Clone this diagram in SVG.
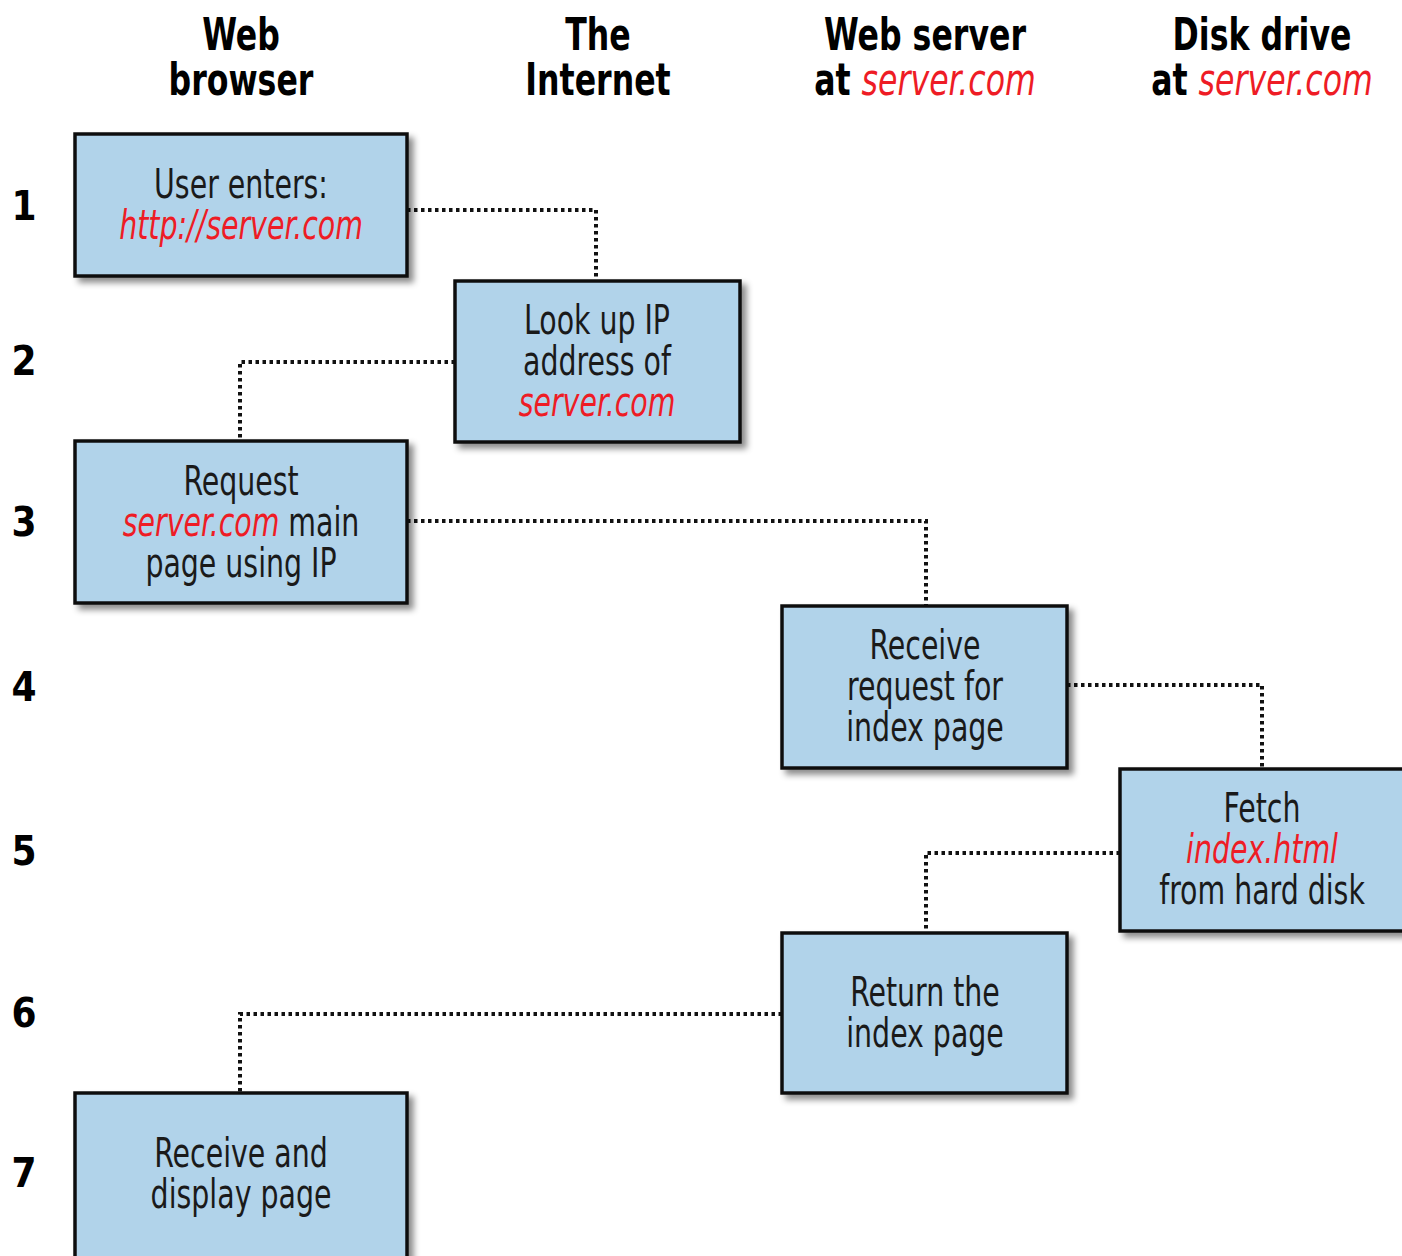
<svg xmlns="http://www.w3.org/2000/svg" width="1402" height="1256" viewBox="0 0 1402 1256">
<style>
.box{fill:#b1d3ea;stroke:#111;stroke-width:3.5}
.t{font-family:"DejaVu Sans Condensed","Liberation Sans Narrow","Liberation Sans",sans-serif;font-size:41px;fill:#1a1a1a;text-anchor:middle}
.r{fill:#ee1c25;font-style:italic}
.h{font-family:"DejaVu Sans Condensed","Liberation Sans Narrow","Liberation Sans",sans-serif;font-size:45px;font-weight:bold;fill:#000;text-anchor:middle}
.n{font-family:"DejaVu Sans Condensed","Liberation Sans",sans-serif;font-size:40px;font-weight:bold;fill:#000;text-anchor:middle}
.c{fill:none;stroke:#111;stroke-width:4;stroke-dasharray:3.5 3.5}
</style>
<defs>
<filter id="sh" x="-10%" y="-10%" width="130%" height="130%">
<feDropShadow dx="5" dy="5" stdDeviation="3" flood-color="#000" flood-opacity="0.45"/>
</filter>
</defs>
<rect width="1402" height="1256" fill="#fff"/>
<g id="headers">
<text class="h" transform="translate(241 50) scale(0.78 1)">Web</text>
<text class="h" transform="translate(241 95) scale(0.78 1)">browser</text>
<text class="h" transform="translate(598 50) scale(0.78 1)">The</text>
<text class="h" transform="translate(598 95) scale(0.78 1)">Internet</text>
<text class="h" transform="translate(925 50) scale(0.78 1)">Web server</text>
<text class="h" transform="translate(925 95) scale(0.78 1)">at <tspan class="r" font-weight="normal">server.com</tspan></text>
<text class="h" transform="translate(1262 50) scale(0.78 1)">Disk drive</text>
<text class="h" transform="translate(1262 95) scale(0.78 1)">at <tspan class="r" font-weight="normal">server.com</tspan></text>
</g>
<g id="rows">
<text class="n" x="24" y="220">1</text>
<text class="n" x="24" y="375">2</text>
<text class="n" x="24" y="536">3</text>
<text class="n" x="24" y="701">4</text>
<text class="n" x="24" y="865">5</text>
<text class="n" x="24" y="1027">6</text>
<text class="n" x="24" y="1187">7</text>
</g>
<g id="connectors">
<path class="c" d="M407 210 H596 V281"/>
<path class="c" d="M455 362 H240 V441"/>
<path class="c" d="M407 521 H926 V606"/>
<path class="c" d="M1067 685 H1262 V769"/>
<path class="c" d="M1120 853 H926 V933"/>
<path class="c" d="M782 1014 H240 V1093"/>
</g>
<g id="n1">
<rect class="box" filter="url(#sh)" x="75" y="134" width="332" height="142"/>
<text class="t" transform="translate(241 198) scale(0.77 1)">User enters:</text>
<text class="t r" transform="translate(241 239) scale(0.77 1)">http://server.com</text>
</g>
<g id="n2">
<rect class="box" filter="url(#sh)" x="455" y="281" width="285" height="161"/>
<text class="t" transform="translate(597 334) scale(0.77 1)">Look up IP</text>
<text class="t" transform="translate(597 375) scale(0.77 1)">address of</text>
<text class="t r" transform="translate(597 416) scale(0.77 1)">server.com</text>
</g>
<g id="n3">
<rect class="box" filter="url(#sh)" x="75" y="441" width="332" height="162"/>
<text class="t" transform="translate(241 495) scale(0.77 1)">Request</text>
<text class="t" transform="translate(241 536) scale(0.77 1)"><tspan class="r">server.com</tspan> main</text>
<text class="t" transform="translate(241 577) scale(0.77 1)">page using IP</text>
</g>
<g id="n4">
<rect class="box" filter="url(#sh)" x="782" y="606" width="285" height="162"/>
<text class="t" transform="translate(925 659) scale(0.77 1)">Receive</text>
<text class="t" transform="translate(925 700) scale(0.77 1)">request for</text>
<text class="t" transform="translate(925 741) scale(0.77 1)">index page</text>
</g>
<g id="n5">
<rect class="box" filter="url(#sh)" x="1120" y="769" width="290" height="162"/>
<text class="t" transform="translate(1262 822) scale(0.77 1)">Fetch</text>
<text class="t r" transform="translate(1262 863) scale(0.77 1)">index.html</text>
<text class="t" transform="translate(1262 904) scale(0.77 1)">from hard disk</text>
</g>
<g id="n6">
<rect class="box" filter="url(#sh)" x="782" y="933" width="285" height="160"/>
<text class="t" transform="translate(925 1006) scale(0.77 1)">Return the</text>
<text class="t" transform="translate(925 1047) scale(0.77 1)">index page</text>
</g>
<g id="n7">
<rect class="box" filter="url(#sh)" x="75" y="1093" width="332" height="170"/>
<text class="t" transform="translate(241 1167) scale(0.77 1)">Receive and</text>
<text class="t" transform="translate(241 1208) scale(0.77 1)">display page</text>
</g>
</svg>
